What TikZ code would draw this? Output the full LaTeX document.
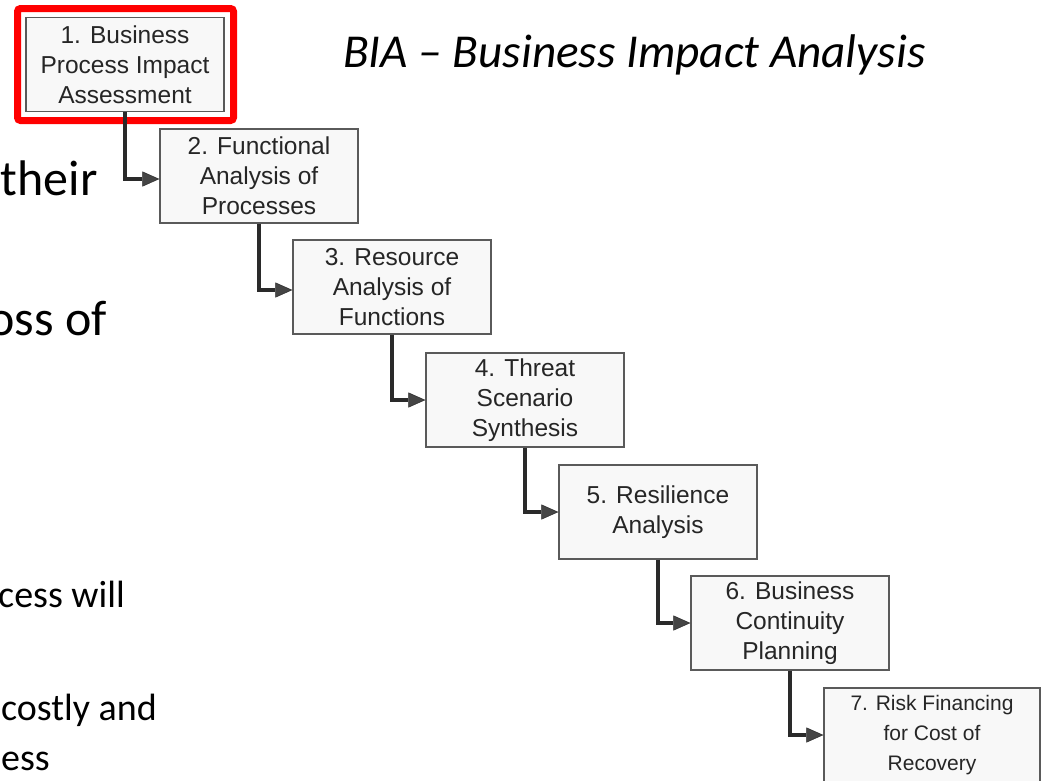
\documentclass[tikz,border=0pt]{standalone}
\usepackage{fontspec}
\setmainfont{Carlito}
\newfontfamily\boxfont{Liberation Sans}
\usetikzlibrary{arrows.meta}
\definecolor{boxline}{HTML}{5A5A5A}
\definecolor{boxfill}{HTML}{F8F8F8}
\definecolor{boxtext}{HTML}{262626}
\definecolor{arrowcol}{HTML}{2A2A2A}
\definecolor{tipcol}{HTML}{454545}
\definecolor{hilite}{HTML}{FF0000}
\tikzset{
  stepbox/.style={draw=boxline, line width=1.3pt, fill=boxfill, minimum width=198pt, minimum height=94pt,
    inner sep=0pt, align=center, text=boxtext, font=\boxfont\fontsize{24.5}{30}\selectfont},
  flow/.style={draw=arrowcol, line width=3.4pt, -{Triangle[length=17pt,width=15pt,fill=tipcol,line width=0.5pt]}},
  bodytext/.style={inner sep=0pt, anchor=base east, font=\fontsize{50}{60}\selectfont, text=black},
  subtext/.style={bodytext, font=\fontsize{38}{46}\selectfont},
}
\begin{document}
\begin{tikzpicture}[x=1pt,y=-1pt]
\useasboundingbox (0,0) rectangle (1043,780);
\clip (0,0) rectangle (1043,780);
\fill[white] (0,0) rectangle (1043,780);
% left slide text fragments
\node[bodytext] (t1) at (98,195) {their};
\node[bodytext] (t2) at (107,335) {oss of};
\node[subtext] (t3) at (125,607) {cess will};
\node[subtext] (t4) at (157,720) {costly and};
\node[subtext] (t5) at (50,770) {ess};
% title
\node[inner sep=0pt, anchor=base west, font=\itshape\fontsize{47.2}{56}\selectfont] (title) at (343,67) {BIA -- Business Impact Analysis};
% boxes
\node[stepbox] (b1) at (125,64.5) {1. Business\\Process Impact\\Assessment};
\node[stepbox] (b2) at (259,176) {2. Functional\\Analysis of\\Processes};
\node[stepbox] (b3) at (392,287) {3. Resource\\Analysis of\\Functions};
\node[stepbox] (b4) at (525,400) {4. Threat\\Scenario\\Synthesis};
\node[stepbox] (b5) at (658,512) {5. Resilience\\Analysis};
\node[stepbox] (b6) at (790,623) {6. Business\\Continuity\\Planning};
\node[stepbox, minimum width=216pt, font=\boxfont\fontsize{21}{30}\selectfont] (b7) at (932,735) {7. Risk Financing\\for Cost of\\Recovery};
% highlight
\draw[hilite, line width=7pt, rounded corners=3pt] (17.5,8.5) rectangle (233.5,120.5);
% connectors
\draw[flow] (b1.south) |- ([yshift=-3pt]b2.west);
\draw[flow] (b2.south) |- ([yshift=-3pt]b3.west);
\draw[flow] (b3.south) |- (b4.west);
\draw[flow] (b4.south) |- (b5.west);
\draw[flow] (b5.south) |- (b6.west);
\draw[flow] (b6.south) |- (b7.west);
\end{tikzpicture}
\end{document}
